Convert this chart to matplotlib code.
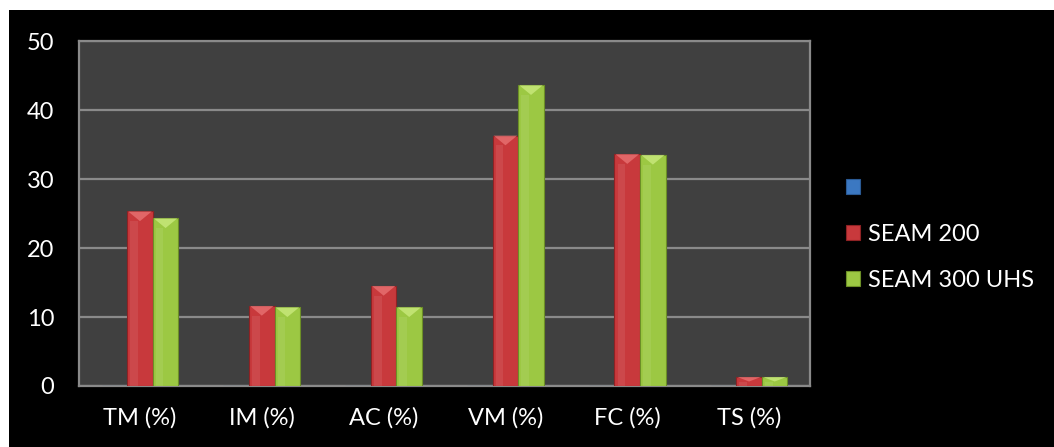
import numpy as np
import matplotlib.pyplot as plt
from matplotlib.patches import Rectangle, Polygon

# proximate analysis of the two coal seams
categories = ['TM (%)', 'IM (%)', 'AC (%)', 'VM (%)', 'FC (%)', 'TS (%)']
blank = [0, 0, 0, 0, 0, 0]
seam_200 = [25.3, 11.6, 14.5, 36.3, 33.6, 1.3]
seam_300_uhs = [24.3, 11.4, 11.4, 43.6, 33.5, 1.3]

plt.rcParams['font.family'] = ['Lato', 'DejaVu Sans']

fig = plt.figure(figsize=(10.54, 4.47), dpi=100, facecolor='white')
# black chart area, with a thin white margin left and top
fig.add_artist(Rectangle((9 / 1054, 0), 1, 1 - 10 / 447, transform=fig.transFigure,
                         facecolor='black', edgecolor='none', zorder=0))

ax = fig.add_axes([0.075, 0.1365, 0.6935, 0.7715])
ax.set_facecolor('#404040')

x = np.arange(len(categories))
w = 0.21
series = [
    (blank, -w, '#3B78C2', '#2a5a94', '#7fb0e8', ' '),
    (seam_200, 0, '#C8393C', '#8e2224', '#ec7a7a', 'SEAM 200'),
    (seam_300_uhs, w, '#9CC843', '#6c8f26', '#d0ee86', 'SEAM 300 UHS'),
]

for vals, off, face, edge, light, lab in series:
    bars = ax.bar(x + off, vals, w, color=face, edgecolor=edge, linewidth=0.8,
                  label=lab, zorder=3)
    # lighter bevel on top of each bar
    for b in bars:
        h = b.get_height()
        if h <= 0:
            continue
        bx, bw = b.get_x(), b.get_width()
        th = min(1.4, h * 0.5)
        ax.add_patch(Polygon([(bx + 0.04 * bw, h), (bx + 0.96 * bw, h), (bx + bw / 2, h - th)],
                             closed=True, facecolor=light, edgecolor='none', alpha=0.7, zorder=4))
        ax.add_patch(Rectangle((bx + 0.12 * bw, 0), 0.3 * bw, h - th, facecolor='white',
                               edgecolor='none', alpha=0.08, zorder=4))

ax.set_xlim(-0.5, len(categories) - 0.5)
ax.set_ylim(0, 50)
ax.set_yticks([0, 10, 20, 30, 40, 50])
ax.set_xticks(x)
ax.set_xticklabels(categories)
ax.yaxis.grid(True, color='#8a8a8a', linewidth=1.6, zorder=1)
ax.set_axisbelow(True)
ax.tick_params(axis='both', length=0, colors='white', labelsize=17)
ax.tick_params(axis='x', pad=15)
ax.tick_params(axis='y', pad=18)
for s in ax.spines.values():
    s.set_color('#8a8a8a')
    s.set_linewidth(1.6)

leg = ax.legend(loc='center left', bbox_to_anchor=(1.02, 0.44), frameon=False,
                fontsize=17, labelcolor='white', handlelength=0.6, handleheight=0.6,
                handletextpad=0.35, labelspacing=1.05)

fig.savefig('out.png', dpi=100, facecolor=fig.get_facecolor())
